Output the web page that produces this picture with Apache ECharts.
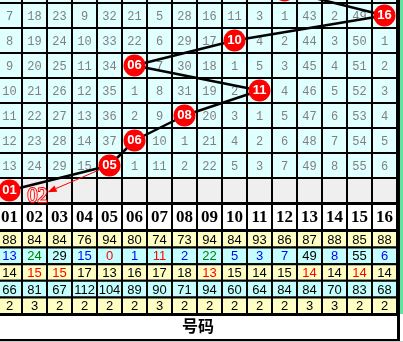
<!DOCTYPE html>
<html><head><meta charset="utf-8">
<script src="https://cdn.jsdelivr.net/npm/echarts@6/dist/echarts.min.js"></script>
<style>html,body{margin:0;padding:0;background:#fff}#c{width:403px;height:342px}</style>
</head><body><div id="c"></div>
<script>
// ---------- data ----------
const columns = ['01','02','03','04','05','06','07','08','09','10','11','12','13','14','15','16'];
// omission values per draw row (null = drawn number, shown as ball)
const omissionRows = [
  [7,18,23,9,32,21,5,28,16,11,3,1,43,2,49,null],
  [8,19,24,10,33,22,6,29,17,null,4,2,44,3,50,1],
  [9,20,25,11,34,null,7,30,18,1,5,3,45,4,51,2],
  [10,21,26,12,35,1,8,31,19,2,null,4,46,5,52,3],
  [11,22,27,13,36,2,9,null,20,3,1,5,47,6,53,4],
  [12,23,28,14,37,null,10,1,21,4,2,6,48,7,54,5],
  [13,24,29,15,null,1,11,2,22,5,3,7,49,8,55,6]
];
const drawRowIdx = [-1,0,1,2,3,4,5,6,7];
const drawColIdx = [11,15,9,5,10,7,5,4,0];
const drawLabels = ['12','16','10','06','11','08','06','05','01'];
const hintLabel = '02';
const arrowLink = [4,6,1,7];
const statAppear = [88,84,84,76,94,80,74,73,94,84,93,86,87,88,85,88];
const statMiss   = [13,24,29,15,0,1,11,2,22,5,3,7,49,8,55,6];
const statMissKey= ['b','g','k','b','r','b','r','b','g','b','b','b','k','b','k','b'];
const statMax    = [14,15,15,17,13,16,17,18,13,15,14,15,14,14,14,14];
const statMaxKey = ['k','r','r','k','k','k','k','k','r','k','k','k','r','k','r','k'];
const statAvg    = [66,81,67,112,104,89,90,71,94,60,64,84,84,70,83,68];
const statRun    = [2,3,2,2,2,2,3,2,2,2,2,2,3,3,2,2];
const footerTitle = '号码';

// ---------- styles ----------
const keyColor = {b:'#0000ff', g:'#008000', k:'#000000', r:'#ff0000'};
const X_MIN = -0.38, X_MAX = 15.74;

// ---------- build cell data ----------
const dataCells = [];
omissionRows.forEach((row, r) => row.forEach((v, c) => dataCells.push({value:[c, r], txt: v == null ? '' : String(v), fill:'#e0ffff'})));
columns.forEach((_, c) => dataCells.push({value:[c, 7], txt:'', fill:'#efefef'}));
columns.forEach((_, c) => dataCells.push({value:[c, -1], txt:'', fill:'#e0ffff'}));

const headerCells = columns.map((t, c) => ({value:[c, 0], txt:t}));

const statRows = [
  {vals: statAppear, fill:'#ffffc4'},
  {vals: statMiss, keys: statMissKey, fill:'#c4ffff'},
  {vals: statMax, keys: statMaxKey, fill:'#ffffc4'},
  {vals: statAvg, fill:'#c4ffff'},
  {vals: statRun, fill:'#ffffc4'}
];
const statCells = [];
statRows.forEach((sr, r) => sr.vals.forEach((v, c) => statCells.push({
  value:[c, r], txt:String(v), fill: sr.fill, color: sr.keys ? keyColor[sr.keys[c]] : '#000'
})));

function cellRenderer(cells, font, defColor, defFill) {
  return function (params, api) {
    const d = cells[params.dataIndex];
    const p = api.coord([api.value(0), api.value(1)]);
    const s = api.size([1, 1]);
    return {
      type: 'group',
      children: [
        {type:'rect', shape:{x:p[0]-s[0]/2, y:p[1]-s[1]/2, width:s[0], height:s[1]},
         style:{fill: d.fill || defFill, stroke:'#000', lineWidth:2}},
        {type:'text', style:{text:d.txt, x:p[0], y:p[1]+1, align:'center', verticalAlign:'middle',
         font: font, fill: d.color || defColor}}
      ]
    };
  };
}

const option = {
  animation: false,
  backgroundColor: '#ffffff',
  grid: [
    {left:0, right:0, top:0, height:203},
    {left:0, right:0, top:204, height:26},
    {left:0, right:0, top:231, height:83}
  ],
  xAxis: [0,1,2].map(i => ({type:'value', gridIndex:i, min:X_MIN, max:X_MAX, show:false})),
  yAxis: [
    {type:'value', gridIndex:0, min:-0.62, max:7.5, inverse:true, show:false},
    {type:'value', gridIndex:1, min:-0.5, max:0.5, inverse:true, show:false},
    {type:'value', gridIndex:2, min:-0.5, max:4.5, inverse:true, show:false}
  ],
  graphic: [
    {type:'rect', shape:{x:397, y:0, width:3, height:342}, style:{fill:'#000'}, z:100},
    {type:'rect', shape:{x:400, y:0, width:3, height:314}, style:{fill:'#60e4a0'}, z:100},
    {type:'rect', shape:{x:0, y:313, width:400, height:3}, style:{fill:'#000'}, z:100},
    {type:'rect', shape:{x:0, y:339, width:400, height:2}, style:{fill:'#000'}, z:100},
    {type:'rect', shape:{x:0, y:341, width:403, height:1}, style:{fill:'#c8c8c8'}, z:100},
    {type:'text', x:198, y:326, style:{text:footerTitle, align:'center', verticalAlign:'middle',
      font:'bold 16px "Noto Sans CJK SC"', fill:'#000'}, z:100}
  ],
  series: [
    {type:'custom', xAxisIndex:0, yAxisIndex:0, clip:false, z:1,
     data: dataCells.map(d => d.value),
     renderItem: cellRenderer(dataCells, '12px "Liberation Mono"', '#808080')},
    {type:'custom', xAxisIndex:1, yAxisIndex:1, z:1,
     data: headerCells.map(d => d.value),
     renderItem: cellRenderer(headerCells, 'bold 17px "Liberation Serif"', '#000', '#ffffff')},
    {type:'custom', xAxisIndex:2, yAxisIndex:2, z:1,
     data: statCells.map(d => d.value),
     renderItem: cellRenderer(statCells, '13px "Liberation Sans"', '#000')},
    // hint label + arrow
    {type:'custom', xAxisIndex:0, yAxisIndex:0, clip:false, z:3,
     data: [arrowLink],
     renderItem: function (params, api) {
       const a = api.coord([api.value(0), api.value(1)]);
       const h = api.coord([api.value(2), api.value(3)]);
       const t = [h[0] + 3, h[1] + 6];
       const dx = t[0] - a[0], dy = t[1] - a[1];
       const len = Math.sqrt(dx*dx + dy*dy);
       const ux = dx/len, uy = dy/len;
       const e = [t[0] - ux*11, t[1] - uy*11];
       const L = 9, W = 3.5;
       const b = [e[0] - ux*L, e[1] - uy*L];
       return {type:'group', children:[
         {type:'line', shape:{x1:a[0], y1:a[1], x2:b[0], y2:b[1]}, style:{stroke:'#ff0000', lineWidth:1}},
         {type:'polygon', shape:{points:[e, [b[0]-uy*W, b[1]+ux*W], [b[0]+uy*W, b[1]-ux*W]]}, style:{fill:'#ff0000'}},
         {type:'text', style:{text:hintLabel, x:t[0], y:t[1], align:'center', verticalAlign:'middle',
           font:'20px "Liberation Serif"', fill:'#ffeaea', stroke:'#ff0000', lineWidth:1.8}}
       ]};
     }},
    {type:'line', xAxisIndex:0, yAxisIndex:0, clip:false, z:5,
     data: drawRowIdx.map((r, i) => [drawColIdx[i], r]),
     lineStyle:{color:'#000', width:2.5},
     symbol:'circle', symbolSize:22, itemStyle:{color:'#ff0000'},
     label:{show:true, position:'inside', formatter: p => drawLabels[p.dataIndex],
       color:'#fff', fontWeight:'bold', fontSize:13, fontFamily:'Liberation Sans'}}
  ]
};
echarts.init(document.getElementById('c'), null, {renderer:'canvas'}).setOption(option);
</script></body></html>
